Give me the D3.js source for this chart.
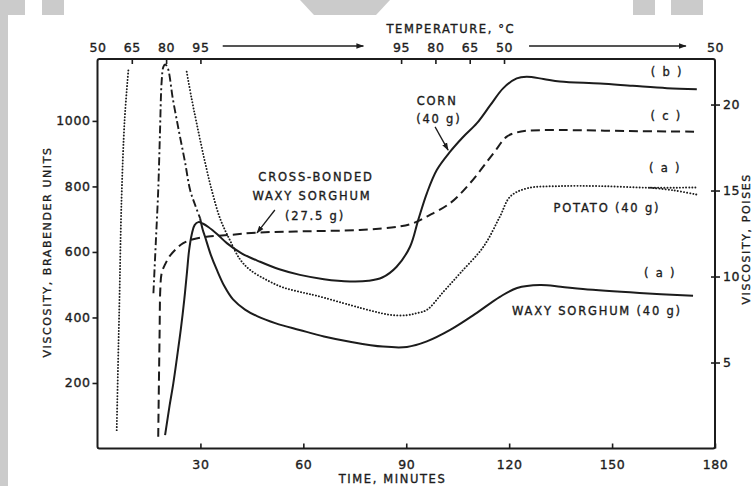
<!DOCTYPE html>
<html>
<head>
<meta charset="utf-8">
<script src="https://cdn.jsdelivr.net/npm/d3@7"></script>
<style>
  html, body { margin: 0; padding: 0; background: #fff; }
  svg { display: block; }
  text { font-family: "DejaVu Sans", "Liberation Sans", sans-serif; fill: #1c1c1c; stroke: #1c1c1c; stroke-width: 0.35px; }
</style>
</head>
<body>
<svg id="chart" width="753" height="486"></svg>
<script>
// Amylograph viscosity curves, time in minutes vs Brabender units (BU)
const timeTicks = [30, 60, 90, 120, 150, 180];
const buTicks = [200, 400, 600, 800, 1000];
const poiseTicks = [5, 10, 15, 20];
const tempTickTimes = [0, 10, 20, 30, 88.5, 98.5, 108.5, 118.5, 180];
const tempTickLabels = ["50", "65", "80", "95", "95", "80", "65", "50", "50"];

// [minutes, BU]
const waxyPeak = [[16.3,474],[17.0,630],[17.7,789],[18.2,960],[18.7,1120],[19.2,1165],[19.7,1172],[20.4,1164],[22.0,1065],[23.8,965],[25.5,875],[27.0,789],[28.5,742],[29.9,703]];
const waxySorghum = [[29.9,703],[30.7,667],[31.3,648],[33.0,592],[34.8,545],[37.0,495],[39.5,455],[43.0,424],[46.5,404],[52.0,382],[58.9,362],[66.0,342],[73.6,326],[83.2,311],[90.2,310],[96.0,327],[102.8,362],[110.0,410],[117.3,463],[122.3,490],[129.0,499],[135.0,494],[141.5,487],[158.0,475],[173.6,466]];
const corn = [[19.7,41],[21.0,130],[22.1,199],[23.2,280],[24.3,365],[25.3,455],[26.1,540],[26.7,605],[27.5,655],[28.3,682],[29.4,691],[30.8,686],[32.3,676],[35.0,653],[37.7,627],[42.0,596],[47.4,570],[53.0,547],[59.0,530],[66.0,517],[73.6,510],[79.0,512],[83.0,522],[87.2,555],[91.1,616],[93.5,698],[96.0,779],[98.9,850],[102.8,906],[106.5,950],[110.6,993],[114.5,1048],[118.3,1100],[122.2,1130],[125.1,1135],[130.0,1128],[134.8,1120],[146.5,1114],[156.0,1107],[166.0,1100],[174.7,1097]];
const crossBonded = [[17.7,36],[17.9,200],[18.1,350],[18.3,484],[18.7,535],[19.7,562],[21.1,588],[23.0,610],[25.0,627],[27.9,639],[32.3,647],[38.6,652],[46.4,659],[60.0,663],[76.5,667],[88.2,678],[92.1,688],[96.0,708],[102.8,749],[108.6,810],[115.4,901],[119.3,952],[122.0,964],[125.1,970],[134.8,972],[155.0,969],[174.7,967]];
const potatoRise = [[5.6,56],[6.0,260],[6.4,453],[7.0,758],[7.9,1002],[9.0,1155]];
const potatoFall = [[26.0,1150],[27.4,1070],[28.9,993],[31.0,890],[33.3,789],[35.8,700],[38.6,636],[41.5,578],[44.5,545],[49.4,514],[54.0,492],[59.0,478],[64.0,466],[73.6,438],[80.0,420],[85.3,408],[90.2,407],[93.0,413],[96.0,423],[100.8,478],[105.7,535],[112.5,616],[117.3,708],[120.3,769],[125.1,794],[134.8,801],[146.5,801],[161.1,796],[174.7,797]];
const potatoTail = [[161.1,796],[168.0,788],[174.7,775]];

const svg = d3.select("#chart");
const ink = "#1c1c1c";

// scanned page margins
const paper = svg.append("g").attr("fill", "#cbcbcb");
paper.append("rect").attr("x", 0).attr("y", 0).attr("width", 8).attr("height", 486);
paper.append("rect").attr("x", 0).attr("y", 0).attr("width", 25).attr("height", 15);
paper.append("rect").attr("x", 42).attr("y", 0).attr("width", 22).attr("height", 15);
paper.append("path").attr("d", "M300,0 L390,0 L376,15 L314,15 Z");
paper.append("rect").attr("x", 633).attr("y", 0).attr("width", 22).attr("height", 15);
paper.append("rect").attr("x", 671).attr("y", 0).attr("width", 32).attr("height", 15);

const x = d3.scaleLinear().domain([0, 180]).range([97.5, 715]);
const y = d3.scaleLinear().domain([0, 1189]).range([448.5, 59]);
const yP = d3.scaleLinear().domain([0, 1189 / 52.5]).range([448.5, 59]);

// frame
const [x0, x1] = x.range();
const [yb, yt] = y.range();
svg.append("rect")
  .attr("x", x0).attr("y", yt).attr("width", x1 - x0).attr("height", yb - yt)
  .attr("rx", 2)
  .attr("fill", "none").attr("stroke", ink).attr("stroke-width", 2);

function styleAxis(g) {
  g.select(".domain").remove();
  g.selectAll(".tick line").attr("stroke", ink).attr("stroke-width", 1.6);
  g.selectAll(".tick text")
    .attr("font-size", 12.5).attr("letter-spacing", 0.6).attr("fill", ink)
    .style("font-family", "'DejaVu Sans', sans-serif");
}

// bottom: time
svg.append("g").attr("transform", `translate(0,${yb})`)
  .call(d3.axisBottom(x).tickValues(timeTicks).tickFormat(d3.format("d"))
    .tickSizeInner(-5).tickSizeOuter(0).tickPadding(12))
  .call(styleAxis);

// left: Brabender units
svg.append("g").attr("transform", `translate(${x0},0)`)
  .call(d3.axisLeft(y).tickValues(buTicks).tickFormat(d3.format("d"))
    .tickSizeInner(5).tickSizeOuter(0).tickPadding(2))
  .call(styleAxis);

// right: poises (ticks straddle the frame)
const gR = svg.append("g").attr("transform", `translate(${x1},0)`)
  .call(d3.axisRight(yP).tickValues(poiseTicks).tickFormat(d3.format("d"))
    .tickSizeInner(5).tickSizeOuter(0).tickPadding(3))
  .call(styleAxis);
gR.selectAll(".tick line").attr("x1", -4);

// top: temperature programme
const gT = svg.append("g").attr("transform", `translate(0,${yt})`)
  .call(d3.axisTop(x).tickValues(tempTickTimes)
    .tickFormat((d, i) => tempTickLabels[i]).tickSizeInner(-5).tickSizeOuter(0).tickPadding(7))
  .call(styleAxis);
gT.selectAll(".tick").filter(d => d === 0 || d === 180).select("line").remove();

// arrows
const defs = svg.append("defs");
defs.append("marker").attr("id", "ah").attr("viewBox", "0 0 10 10")
  .attr("refX", 9).attr("refY", 5).attr("markerWidth", 6).attr("markerHeight", 6)
  .attr("orient", "auto-start-reverse")
  .append("path").attr("d", "M0,1.5 L10,5 L0,8.5 Z").attr("fill", ink);

function arrow(t0, v0, t1, v1, w) {
  svg.append("line")
    .attr("x1", x(t0)).attr("y1", y(v0)).attr("x2", x(t1)).attr("y2", y(v1))
    .attr("stroke", ink).attr("stroke-width", w || 1.3)
    .attr("marker-end", "url(#ah)");
}
// heating / cooling arrows along the temperature scale
const tempArrowY = y.invert(yt - 13);
arrow(36.5, tempArrowY, 77.5, tempArrowY, 1.3);
arrow(125.8, tempArrowY, 171.5, tempArrowY, 1.3);

// curves
const line = d3.line().x(d => x(d[0])).y(d => y(d[1])).curve(d3.curveCatmullRom.alpha(0.5));
function curve(data, dash, w) {
  svg.append("path").datum(data)
    .attr("d", line)
    .attr("fill", "none").attr("stroke", ink)
    .attr("stroke-width", w)
    .attr("stroke-linecap", dash === "dot" ? "round" : "butt")
    .attr("stroke-linejoin", "round")
    .attr("stroke-dasharray", dash === "dot" ? "0.1,3" : dash);
}
curve(potatoRise, "dot", 1.9);
curve(potatoFall, "dot", 1.9);
curve(potatoTail, "dot", 1.9);
curve(waxyPeak, "8,3,2,3", 1.9);
curve(waxySorghum, null, 2);
curve(corn, null, 2);
curve(crossBonded, "9,5", 2);

// annotations (positions in minutes / BU)
const labels = [
  { t: 99.0, v: 1049, s: "CORN" },
  { t: 99.5, v: 994, s: "(40 g)" },
  { t: 63.7, v: 817, s: "CROSS-BONDED" },
  { t: 62.5, v: 759, s: "WAXY SORGHUM" },
  { t: 63.4, v: 698, s: "(27.5 g)" },
  { t: 166.0, v: 1137, s: "( b )" },
  { t: 165.8, v: 1003, s: "( c )" },
  { t: 165.5, v: 844, s: "( a )" },
  { t: 148.5, v: 722, s: "POTATO (40 g)" },
  { t: 164.0, v: 524, s: "( a )" },
  { t: 145.6, v: 408, s: "WAXY SORGHUM (40 g)" }
];
svg.append("g").selectAll("text").data(labels).join("text")
  .attr("x", d => x(d.t)).attr("y", d => y(d.v))
  .attr("text-anchor", "middle")
  .attr("font-size", 11.5).attr("letter-spacing", 1.8)
  .text(d => d.s);

arrow(98.4, 982, 102.2, 911, 1.3);
arrow(51.7, 728, 46.5, 658, 1.3);

// axis titles
svg.append("text").attr("x", x(103)).attr("y", 33)
  .attr("text-anchor", "middle").attr("font-size", 11.5).attr("letter-spacing", 1.6)
  .text("TEMPERATURE, °C");
svg.append("text").attr("x", x(86)).attr("y", 483)
  .attr("text-anchor", "middle").attr("font-size", 11.5).attr("letter-spacing", 1.6)
  .text("TIME, MINUTES");
svg.append("text")
  .attr("transform", `translate(51,${y(600)}) rotate(-90)`)
  .attr("text-anchor", "middle").attr("font-size", 11).attr("letter-spacing", 1.6)
  .text("VISCOSITY, BRABENDER UNITS");
svg.append("text")
  .attr("transform", `translate(750,${y(640)}) rotate(-90)`)
  .attr("text-anchor", "middle").attr("font-size", 11).attr("letter-spacing", 1.6)
  .text("VISCOSITY, POISES");
</script>
</body>
</html>
